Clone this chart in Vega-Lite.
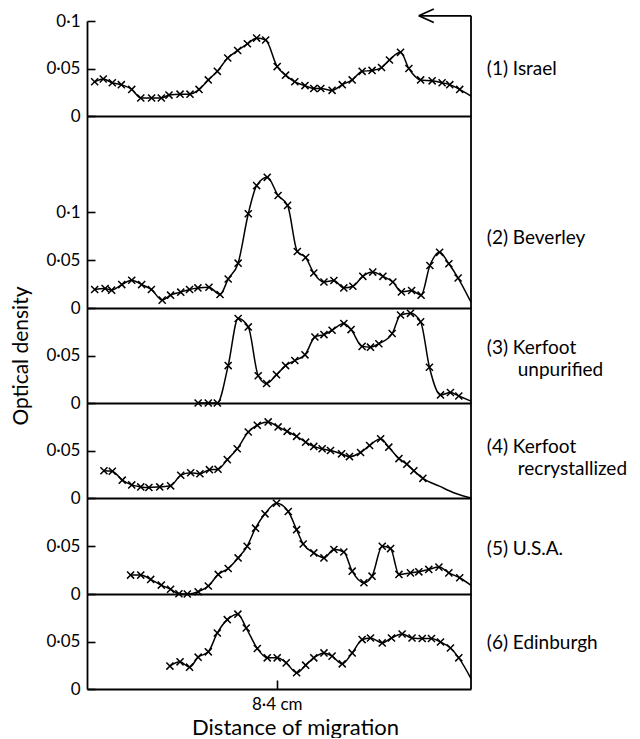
{
  "$schema": "https://vega.github.io/schema/vega-lite/v6.json",
  "background": "white",
  "padding": {"left": 10, "top": 5, "right": 0, "bottom": 0},
  "autosize": {"type": "pad"},
  "spacing": 0,
  "bounds": "flush",
  "config": {
    "view": {"stroke": null},
    "font": "Lato",
    "concat": {"spacing": 0},
    "axis": {
      "grid": false,
      "domainColor": "black",
      "domainWidth": 1.8,
      "tickColor": "black",
      "tickWidth": 1.6,
      "labelColor": "black",
      "labelFont": "Lato",
      "labelFontSize": 17,
      "titleColor": "black",
      "titleFont": "Lato",
      "titleFontSize": 21,
      "titleFontWeight": "normal",
      "labelOverlap": false
    },
    "axisY": {"tickSize": -8, "labelPadding": 15},
    "text": {"font": "Lato", "fontSize": 19, "color": "black", "align": "left", "baseline": "middle"}
  },
  "data": {
    "values": [
      {"sample": "Israel", "x": 0.34, "od": 0.036, "measured": true},
      {"sample": "Israel", "x": 0.72, "od": 0.039, "measured": true},
      {"sample": "Israel", "x": 1.12, "od": 0.035, "measured": true},
      {"sample": "Israel", "x": 1.52, "od": 0.033, "measured": true},
      {"sample": "Israel", "x": 1.98, "od": 0.028, "measured": true},
      {"sample": "Israel", "x": 2.38, "od": 0.019, "measured": true},
      {"sample": "Israel", "x": 2.86, "od": 0.019, "measured": true},
      {"sample": "Israel", "x": 3.29, "od": 0.019, "measured": true},
      {"sample": "Israel", "x": 3.63, "od": 0.022, "measured": true},
      {"sample": "Israel", "x": 4.12, "od": 0.023, "measured": true},
      {"sample": "Israel", "x": 4.56, "od": 0.023, "measured": true},
      {"sample": "Israel", "x": 4.96, "od": 0.028, "measured": true},
      {"sample": "Israel", "x": 5.37, "od": 0.038, "measured": true},
      {"sample": "Israel", "x": 5.77, "od": 0.047, "measured": true},
      {"sample": "Israel", "x": 6.23, "od": 0.061, "measured": true},
      {"sample": "Israel", "x": 6.67, "od": 0.069, "measured": true},
      {"sample": "Israel", "x": 7.10, "od": 0.076, "measured": true},
      {"sample": "Israel", "x": 7.51, "od": 0.082, "measured": true},
      {"sample": "Israel", "x": 7.91, "od": 0.080, "measured": true},
      {"sample": "Israel", "x": 8.42, "od": 0.052, "measured": true},
      {"sample": "Israel", "x": 8.79, "od": 0.043, "measured": true},
      {"sample": "Israel", "x": 9.20, "od": 0.036, "measured": true},
      {"sample": "Israel", "x": 9.65, "od": 0.032, "measured": true},
      {"sample": "Israel", "x": 10.04, "od": 0.029, "measured": true},
      {"sample": "Israel", "x": 10.35, "od": 0.029, "measured": true},
      {"sample": "Israel", "x": 10.85, "od": 0.027, "measured": true},
      {"sample": "Israel", "x": 11.30, "od": 0.033, "measured": true},
      {"sample": "Israel", "x": 11.74, "od": 0.038, "measured": true},
      {"sample": "Israel", "x": 12.18, "od": 0.047, "measured": true},
      {"sample": "Israel", "x": 12.62, "od": 0.048, "measured": true},
      {"sample": "Israel", "x": 13.04, "od": 0.051, "measured": true},
      {"sample": "Israel", "x": 13.39, "od": 0.059, "measured": true},
      {"sample": "Israel", "x": 13.88, "od": 0.067, "measured": true},
      {"sample": "Israel", "x": 14.25, "od": 0.050, "measured": true},
      {"sample": "Israel", "x": 14.77, "od": 0.038, "measured": true},
      {"sample": "Israel", "x": 15.28, "od": 0.037, "measured": true},
      {"sample": "Israel", "x": 15.72, "od": 0.035, "measured": true},
      {"sample": "Israel", "x": 16.06, "od": 0.033, "measured": true},
      {"sample": "Israel", "x": 16.50, "od": 0.028, "measured": true},
      {"sample": "Israel", "x": 17.0, "od": 0.021, "measured": false},

      {"sample": "Beverley", "x": 0.34, "od": 0.0193, "measured": true},
      {"sample": "Beverley", "x": 0.80, "od": 0.0203, "measured": true},
      {"sample": "Beverley", "x": 1.09, "od": 0.0186, "measured": true},
      {"sample": "Beverley", "x": 1.54, "od": 0.0244, "measured": true},
      {"sample": "Beverley", "x": 1.98, "od": 0.0289, "measured": true},
      {"sample": "Beverley", "x": 2.42, "od": 0.0244, "measured": true},
      {"sample": "Beverley", "x": 2.85, "od": 0.0193, "measured": true},
      {"sample": "Beverley", "x": 3.33, "od": 0.0082, "measured": true},
      {"sample": "Beverley", "x": 3.70, "od": 0.0134, "measured": true},
      {"sample": "Beverley", "x": 4.15, "od": 0.0165, "measured": true},
      {"sample": "Beverley", "x": 4.54, "od": 0.0193, "measured": true},
      {"sample": "Beverley", "x": 4.91, "od": 0.0209, "measured": true},
      {"sample": "Beverley", "x": 5.40, "od": 0.0216, "measured": true},
      {"sample": "Beverley", "x": 5.89, "od": 0.0141, "measured": true},
      {"sample": "Beverley", "x": 6.25, "od": 0.0302, "measured": true},
      {"sample": "Beverley", "x": 6.69, "od": 0.0467, "measured": true},
      {"sample": "Beverley", "x": 7.14, "od": 0.0982, "measured": true},
      {"sample": "Beverley", "x": 7.51, "od": 0.1275, "measured": true},
      {"sample": "Beverley", "x": 7.98, "od": 0.1361, "measured": true},
      {"sample": "Beverley", "x": 8.46, "od": 0.1172, "measured": true},
      {"sample": "Beverley", "x": 8.88, "od": 0.1069, "measured": true},
      {"sample": "Beverley", "x": 9.31, "od": 0.0588, "measured": true},
      {"sample": "Beverley", "x": 9.68, "od": 0.0526, "measured": true},
      {"sample": "Beverley", "x": 10.04, "od": 0.0364, "measured": true},
      {"sample": "Beverley", "x": 10.49, "od": 0.0271, "measured": true},
      {"sample": "Beverley", "x": 10.93, "od": 0.0286, "measured": true},
      {"sample": "Beverley", "x": 11.37, "od": 0.0209, "measured": true},
      {"sample": "Beverley", "x": 11.77, "od": 0.0227, "measured": true},
      {"sample": "Beverley", "x": 12.21, "od": 0.0330, "measured": true},
      {"sample": "Beverley", "x": 12.65, "od": 0.0374, "measured": true},
      {"sample": "Beverley", "x": 13.10, "od": 0.0330, "measured": true},
      {"sample": "Beverley", "x": 13.54, "od": 0.0271, "measured": true},
      {"sample": "Beverley", "x": 13.92, "od": 0.0168, "measured": true},
      {"sample": "Beverley", "x": 14.37, "od": 0.0182, "measured": true},
      {"sample": "Beverley", "x": 14.79, "od": 0.0134, "measured": true},
      {"sample": "Beverley", "x": 15.18, "od": 0.0443, "measured": true},
      {"sample": "Beverley", "x": 15.61, "od": 0.0580, "measured": true},
      {"sample": "Beverley", "x": 16.02, "od": 0.0461, "measured": true},
      {"sample": "Beverley", "x": 16.43, "od": 0.0312, "measured": true},
      {"sample": "Beverley", "x": 17.0, "od": 0.006, "measured": false},

      {"sample": "Kerfoot unpurified", "x": 4.92, "od": 0.0, "measured": true},
      {"sample": "Kerfoot unpurified", "x": 5.37, "od": 0.0, "measured": true},
      {"sample": "Kerfoot unpurified", "x": 5.77, "od": 0.0, "measured": true},
      {"sample": "Kerfoot unpurified", "x": 6.25, "od": 0.0394, "measured": true},
      {"sample": "Kerfoot unpurified", "x": 6.69, "od": 0.0890, "measured": true},
      {"sample": "Kerfoot unpurified", "x": 7.14, "od": 0.0801, "measured": true},
      {"sample": "Kerfoot unpurified", "x": 7.58, "od": 0.0287, "measured": true},
      {"sample": "Kerfoot unpurified", "x": 7.95, "od": 0.0205, "measured": true},
      {"sample": "Kerfoot unpurified", "x": 8.39, "od": 0.0298, "measured": true},
      {"sample": "Kerfoot unpurified", "x": 8.79, "od": 0.0394, "measured": true},
      {"sample": "Kerfoot unpurified", "x": 9.20, "od": 0.0447, "measured": true},
      {"sample": "Kerfoot unpurified", "x": 9.65, "od": 0.0507, "measured": true},
      {"sample": "Kerfoot unpurified", "x": 10.09, "od": 0.0695, "measured": true},
      {"sample": "Kerfoot unpurified", "x": 10.49, "od": 0.0720, "measured": true},
      {"sample": "Kerfoot unpurified", "x": 10.85, "od": 0.0766, "measured": true},
      {"sample": "Kerfoot unpurified", "x": 11.37, "od": 0.0837, "measured": true},
      {"sample": "Kerfoot unpurified", "x": 11.69, "od": 0.0773, "measured": true},
      {"sample": "Kerfoot unpurified", "x": 12.18, "od": 0.0596, "measured": true},
      {"sample": "Kerfoot unpurified", "x": 12.55, "od": 0.0588, "measured": true},
      {"sample": "Kerfoot unpurified", "x": 12.92, "od": 0.0624, "measured": true},
      {"sample": "Kerfoot unpurified", "x": 13.51, "od": 0.0731, "measured": true},
      {"sample": "Kerfoot unpurified", "x": 13.88, "od": 0.0926, "measured": true},
      {"sample": "Kerfoot unpurified", "x": 14.32, "od": 0.0944, "measured": true},
      {"sample": "Kerfoot unpurified", "x": 14.77, "od": 0.0854, "measured": true},
      {"sample": "Kerfoot unpurified", "x": 15.16, "od": 0.0376, "measured": true},
      {"sample": "Kerfoot unpurified", "x": 15.65, "od": 0.0085, "measured": true},
      {"sample": "Kerfoot unpurified", "x": 16.09, "od": 0.0110, "measured": true},
      {"sample": "Kerfoot unpurified", "x": 16.46, "od": 0.0074, "measured": true},
      {"sample": "Kerfoot unpurified", "x": 17.0, "od": 0.002, "measured": false},

      {"sample": "Kerfoot recrystallized", "x": 0.75, "od": 0.0287, "measured": true},
      {"sample": "Kerfoot recrystallized", "x": 1.12, "od": 0.0282, "measured": true},
      {"sample": "Kerfoot recrystallized", "x": 1.56, "od": 0.0188, "measured": true},
      {"sample": "Kerfoot recrystallized", "x": 1.98, "od": 0.0138, "measured": true},
      {"sample": "Kerfoot recrystallized", "x": 2.38, "od": 0.0117, "measured": true},
      {"sample": "Kerfoot recrystallized", "x": 2.74, "od": 0.0110, "measured": true},
      {"sample": "Kerfoot recrystallized", "x": 3.22, "od": 0.0117, "measured": true},
      {"sample": "Kerfoot recrystallized", "x": 3.70, "od": 0.0128, "measured": true},
      {"sample": "Kerfoot recrystallized", "x": 4.15, "od": 0.0239, "measured": true},
      {"sample": "Kerfoot recrystallized", "x": 4.59, "od": 0.0266, "measured": true},
      {"sample": "Kerfoot recrystallized", "x": 5.00, "od": 0.0255, "measured": true},
      {"sample": "Kerfoot recrystallized", "x": 5.42, "od": 0.0298, "measured": true},
      {"sample": "Kerfoot recrystallized", "x": 5.80, "od": 0.0303, "measured": true},
      {"sample": "Kerfoot recrystallized", "x": 6.21, "od": 0.0404, "measured": true},
      {"sample": "Kerfoot recrystallized", "x": 6.65, "od": 0.0518, "measured": true},
      {"sample": "Kerfoot recrystallized", "x": 7.14, "od": 0.0695, "measured": true},
      {"sample": "Kerfoot recrystallized", "x": 7.54, "od": 0.0766, "measured": true},
      {"sample": "Kerfoot recrystallized", "x": 8.02, "od": 0.0801, "measured": true},
      {"sample": "Kerfoot recrystallized", "x": 8.46, "od": 0.0748, "measured": true},
      {"sample": "Kerfoot recrystallized", "x": 8.86, "od": 0.0702, "measured": true},
      {"sample": "Kerfoot recrystallized", "x": 9.28, "od": 0.0649, "measured": true},
      {"sample": "Kerfoot recrystallized", "x": 9.68, "od": 0.0588, "measured": true},
      {"sample": "Kerfoot recrystallized", "x": 10.04, "od": 0.0543, "measured": true},
      {"sample": "Kerfoot recrystallized", "x": 10.41, "od": 0.0518, "measured": true},
      {"sample": "Kerfoot recrystallized", "x": 10.78, "od": 0.0500, "measured": true},
      {"sample": "Kerfoot recrystallized", "x": 11.27, "od": 0.0465, "measured": true},
      {"sample": "Kerfoot recrystallized", "x": 11.62, "od": 0.0436, "measured": true},
      {"sample": "Kerfoot recrystallized", "x": 12.11, "od": 0.0479, "measured": true},
      {"sample": "Kerfoot recrystallized", "x": 12.51, "od": 0.0553, "measured": true},
      {"sample": "Kerfoot recrystallized", "x": 13.00, "od": 0.0624, "measured": true},
      {"sample": "Kerfoot recrystallized", "x": 13.36, "od": 0.0535, "measured": true},
      {"sample": "Kerfoot recrystallized", "x": 13.81, "od": 0.0415, "measured": true},
      {"sample": "Kerfoot recrystallized", "x": 14.16, "od": 0.0356, "measured": true},
      {"sample": "Kerfoot recrystallized", "x": 14.47, "od": 0.0287, "measured": true},
      {"sample": "Kerfoot recrystallized", "x": 14.87, "od": 0.0207, "measured": true},
      {"sample": "Kerfoot recrystallized", "x": 15.6, "od": 0.0125, "measured": false},
      {"sample": "Kerfoot recrystallized", "x": 16.3, "od": 0.005, "measured": false},
      {"sample": "Kerfoot recrystallized", "x": 17.0, "od": 0.0, "measured": false},

      {"sample": "U.S.A.", "x": 1.93, "od": 0.0197, "measured": true},
      {"sample": "U.S.A.", "x": 2.38, "od": 0.0197, "measured": true},
      {"sample": "U.S.A.", "x": 2.82, "od": 0.0152, "measured": true},
      {"sample": "U.S.A.", "x": 3.29, "od": 0.0093, "measured": true},
      {"sample": "U.S.A.", "x": 3.70, "od": 0.0049, "measured": true},
      {"sample": "U.S.A.", "x": 4.07, "od": 0.0003, "measured": true},
      {"sample": "U.S.A.", "x": 4.44, "od": 0.0, "measured": true},
      {"sample": "U.S.A.", "x": 4.92, "od": 0.0024, "measured": true},
      {"sample": "U.S.A.", "x": 5.37, "od": 0.0083, "measured": true},
      {"sample": "U.S.A.", "x": 5.81, "od": 0.0204, "measured": true},
      {"sample": "U.S.A.", "x": 6.25, "od": 0.0266, "measured": true},
      {"sample": "U.S.A.", "x": 6.69, "od": 0.0376, "measured": true},
      {"sample": "U.S.A.", "x": 7.09, "od": 0.0497, "measured": true},
      {"sample": "U.S.A.", "x": 7.46, "od": 0.0686, "measured": true},
      {"sample": "U.S.A.", "x": 7.88, "od": 0.0835, "measured": true},
      {"sample": "U.S.A.", "x": 8.39, "od": 0.0945, "measured": true},
      {"sample": "U.S.A.", "x": 8.91, "od": 0.0859, "measured": true},
      {"sample": "U.S.A.", "x": 9.28, "od": 0.0670, "measured": true},
      {"sample": "U.S.A.", "x": 9.57, "od": 0.0521, "measured": true},
      {"sample": "U.S.A.", "x": 10.04, "od": 0.0428, "measured": true},
      {"sample": "U.S.A.", "x": 10.49, "od": 0.0376, "measured": true},
      {"sample": "U.S.A.", "x": 10.93, "od": 0.0463, "measured": true},
      {"sample": "U.S.A.", "x": 11.37, "od": 0.0438, "measured": true},
      {"sample": "U.S.A.", "x": 11.74, "od": 0.0238, "measured": true},
      {"sample": "U.S.A.", "x": 12.26, "od": 0.0117, "measured": true},
      {"sample": "U.S.A.", "x": 12.62, "od": 0.0186, "measured": true},
      {"sample": "U.S.A.", "x": 13.07, "od": 0.0497, "measured": true},
      {"sample": "U.S.A.", "x": 13.44, "od": 0.0473, "measured": true},
      {"sample": "U.S.A.", "x": 13.81, "od": 0.0204, "measured": true},
      {"sample": "U.S.A.", "x": 14.32, "od": 0.0220, "measured": true},
      {"sample": "U.S.A.", "x": 14.69, "od": 0.0231, "measured": true},
      {"sample": "U.S.A.", "x": 15.13, "od": 0.0256, "measured": true},
      {"sample": "U.S.A.", "x": 15.58, "od": 0.0280, "measured": true},
      {"sample": "U.S.A.", "x": 16.02, "od": 0.0220, "measured": true},
      {"sample": "U.S.A.", "x": 16.50, "od": 0.0169, "measured": true},
      {"sample": "U.S.A.", "x": 17.0, "od": 0.009, "measured": false},

      {"sample": "Edinburgh", "x": 3.67, "od": 0.0241, "measured": true},
      {"sample": "Edinburgh", "x": 4.12, "od": 0.0286, "measured": true},
      {"sample": "Edinburgh", "x": 4.54, "od": 0.0230, "measured": true},
      {"sample": "Edinburgh", "x": 4.92, "od": 0.0335, "measured": true},
      {"sample": "Edinburgh", "x": 5.37, "od": 0.0391, "measured": true},
      {"sample": "Edinburgh", "x": 5.77, "od": 0.0590, "measured": true},
      {"sample": "Edinburgh", "x": 6.21, "od": 0.0730, "measured": true},
      {"sample": "Edinburgh", "x": 6.68, "od": 0.0788, "measured": true},
      {"sample": "Edinburgh", "x": 7.05, "od": 0.0642, "measured": true},
      {"sample": "Edinburgh", "x": 7.54, "od": 0.0426, "measured": true},
      {"sample": "Edinburgh", "x": 7.98, "od": 0.0328, "measured": true},
      {"sample": "Edinburgh", "x": 8.42, "od": 0.0328, "measured": true},
      {"sample": "Edinburgh", "x": 8.82, "od": 0.0275, "measured": true},
      {"sample": "Edinburgh", "x": 9.28, "od": 0.0171, "measured": true},
      {"sample": "Edinburgh", "x": 9.68, "od": 0.0251, "measured": true},
      {"sample": "Edinburgh", "x": 10.04, "od": 0.0328, "measured": true},
      {"sample": "Edinburgh", "x": 10.49, "od": 0.0380, "measured": true},
      {"sample": "Edinburgh", "x": 10.85, "od": 0.0346, "measured": true},
      {"sample": "Edinburgh", "x": 11.30, "od": 0.0265, "measured": true},
      {"sample": "Edinburgh", "x": 11.74, "od": 0.0380, "measured": true},
      {"sample": "Edinburgh", "x": 12.18, "od": 0.0520, "measured": true},
      {"sample": "Edinburgh", "x": 12.55, "od": 0.0537, "measured": true},
      {"sample": "Edinburgh", "x": 13.07, "od": 0.0485, "measured": true},
      {"sample": "Edinburgh", "x": 13.48, "od": 0.0537, "measured": true},
      {"sample": "Edinburgh", "x": 13.95, "od": 0.0579, "measured": true},
      {"sample": "Edinburgh", "x": 14.39, "od": 0.0537, "measured": true},
      {"sample": "Edinburgh", "x": 14.84, "od": 0.0531, "measured": true},
      {"sample": "Edinburgh", "x": 15.25, "od": 0.0531, "measured": true},
      {"sample": "Edinburgh", "x": 15.65, "od": 0.0495, "measured": true},
      {"sample": "Edinburgh", "x": 16.09, "od": 0.0432, "measured": true},
      {"sample": "Edinburgh", "x": 16.46, "od": 0.0328, "measured": true},
      {"sample": "Edinburgh", "x": 17.0, "od": 0.011, "measured": false}
    ]
  },
  "vconcat": [
    {
      "width": 384, "height": 95,
      "transform": [{"filter": "datum.sample === 'Israel'"}],
      "layer": [
        {
          "encoding": {
            "x": {"field": "x", "type": "quantitative", "scale": {"domain": [0, 17], "nice": false}, "axis": {"labels": false, "ticks": false, "title": null}},
            "y": {"field": "od", "type": "quantitative", "scale": {"domain": [0, 0.1], "nice": false}, "axis": {"values": [0, 0.05, 0.1], "format": "~g", "labelExpr": "replace(datum.label, '.', '·')", "title": null}}
          },
          "layer": [
            {"mark": {"type": "line", "interpolate": "monotone", "color": "black", "strokeWidth": 1.5}},
            {"transform": [{"filter": "datum.measured"}], "mark": {"type": "point", "shape": "M-1,-1L1,1M-1,1L1,-1", "size": 50, "color": "black", "strokeWidth": 1.5, "filled": false, "opacity": 1}}
          ]
        },
        {"data": {"values": [{}]}, "mark": {"type": "rule", "color": "black", "strokeWidth": 1.8, "clip": false}, "encoding": {"x": {"datum": 17, "scale": {"domain": [0, 17], "nice": false}}, "y": {"datum": 0, "scale": {"domain": [0, 0.1], "nice": false}}, "y2": {"datum": 0.1055}}},
        {"data": {"values": [{}]}, "mark": {"type": "rule", "color": "black", "strokeWidth": 1.8, "clip": false}, "encoding": {"x": {"datum": 14.69, "scale": {"domain": [0, 17], "nice": false}}, "x2": {"datum": 17}, "y": {"datum": 0.1055, "scale": {"domain": [0, 0.1], "nice": false}}}},
        {"data": {"values": [{}]}, "mark": {"type": "point", "shape": "M-1,0L1,-0.9M-1,0L1,0.9", "size": 225, "color": "black", "strokeWidth": 1.8, "filled": false, "opacity": 1, "clip": false}, "encoding": {"x": {"datum": 15.02, "scale": {"domain": [0, 17], "nice": false}}, "y": {"datum": 0.1055, "scale": {"domain": [0, 0.1], "nice": false}}}},
        {"data": {"values": [{}]}, "mark": {"type": "text", "text": "(1) Israel", "clip": false}, "encoding": {"x": {"datum": 17.7, "scale": {"domain": [0, 17], "nice": false}}, "y": {"datum": 0.05, "scale": {"domain": [0, 0.1], "nice": false}}}}
      ]
    },
    {
      "width": 384, "height": 192,
      "transform": [{"filter": "datum.sample === 'Beverley'"}],
      "layer": [
        {
          "encoding": {
            "x": {"field": "x", "type": "quantitative", "scale": {"domain": [0, 17], "nice": false}, "axis": {"labels": false, "ticks": false, "title": null}},
            "y": {"field": "od", "type": "quantitative", "scale": {"domain": [0, 0.2], "nice": false}, "axis": {"values": [0, 0.05, 0.1], "format": "~g", "labelExpr": "replace(datum.label, '.', '·')", "title": null}}
          },
          "layer": [
            {"mark": {"type": "line", "interpolate": "monotone", "color": "black", "strokeWidth": 1.5}},
            {"transform": [{"filter": "datum.measured"}], "mark": {"type": "point", "shape": "M-1,-1L1,1M-1,1L1,-1", "size": 50, "color": "black", "strokeWidth": 1.5, "filled": false, "opacity": 1}}
          ]
        },
        {"data": {"values": [{}]}, "mark": {"type": "rule", "color": "black", "strokeWidth": 1.8}, "encoding": {"x": {"datum": 17, "scale": {"domain": [0, 17], "nice": false}}}},
        {"data": {"values": [{}]}, "mark": {"type": "text", "text": "(2) Beverley", "clip": false}, "encoding": {"x": {"datum": 17.7, "scale": {"domain": [0, 17], "nice": false}}, "y": {"datum": 0.073, "scale": {"domain": [0, 0.2], "nice": false}}}}
      ]
    },
    {
      "width": 384, "height": 95,
      "transform": [{"filter": "datum.sample === 'Kerfoot unpurified'"}],
      "layer": [
        {
          "encoding": {
            "x": {"field": "x", "type": "quantitative", "scale": {"domain": [0, 17], "nice": false}, "axis": {"labels": false, "ticks": false, "title": null}},
            "y": {"field": "od", "type": "quantitative", "scale": {"domain": [0, 0.1], "nice": false}, "axis": {"values": [0, 0.05], "format": "~g", "labelExpr": "replace(datum.label, '.', '·')", "title": "Optical density", "titlePadding": 14}}
          },
          "layer": [
            {"mark": {"type": "line", "interpolate": "monotone", "color": "black", "strokeWidth": 1.5}},
            {"transform": [{"filter": "datum.measured"}], "mark": {"type": "point", "shape": "M-1,-1L1,1M-1,1L1,-1", "size": 50, "color": "black", "strokeWidth": 1.5, "filled": false, "opacity": 1}}
          ]
        },
        {"data": {"values": [{}]}, "mark": {"type": "rule", "color": "black", "strokeWidth": 1.8}, "encoding": {"x": {"datum": 17, "scale": {"domain": [0, 17], "nice": false}}}},
        {"data": {"values": [{}]}, "mark": {"type": "text", "text": "(3) Kerfoot", "clip": false}, "encoding": {"x": {"datum": 17.7, "scale": {"domain": [0, 17], "nice": false}}, "y": {"datum": 0.0578, "scale": {"domain": [0, 0.1], "nice": false}}}},
        {"data": {"values": [{}]}, "mark": {"type": "text", "text": "unpurified", "clip": false}, "encoding": {"x": {"datum": 19.07, "scale": {"domain": [0, 17], "nice": false}}, "y": {"datum": 0.0352, "scale": {"domain": [0, 0.1], "nice": false}}}}
      ]
    },
    {
      "width": 384, "height": 95,
      "transform": [{"filter": "datum.sample === 'Kerfoot recrystallized'"}],
      "layer": [
        {
          "encoding": {
            "x": {"field": "x", "type": "quantitative", "scale": {"domain": [0, 17], "nice": false}, "axis": {"labels": false, "ticks": false, "title": null}},
            "y": {"field": "od", "type": "quantitative", "scale": {"domain": [0, 0.1], "nice": false}, "axis": {"values": [0, 0.05], "format": "~g", "labelExpr": "replace(datum.label, '.', '·')", "title": null}}
          },
          "layer": [
            {"mark": {"type": "line", "interpolate": "monotone", "color": "black", "strokeWidth": 1.5}},
            {"transform": [{"filter": "datum.measured"}], "mark": {"type": "point", "shape": "M-1,-1L1,1M-1,1L1,-1", "size": 50, "color": "black", "strokeWidth": 1.5, "filled": false, "opacity": 1}}
          ]
        },
        {"data": {"values": [{}]}, "mark": {"type": "rule", "color": "black", "strokeWidth": 1.8}, "encoding": {"x": {"datum": 17, "scale": {"domain": [0, 17], "nice": false}}}},
        {"data": {"values": [{}]}, "mark": {"type": "text", "text": "(4) Kerfoot", "clip": false}, "encoding": {"x": {"datum": 17.7, "scale": {"domain": [0, 17], "nice": false}}, "y": {"datum": 0.0536, "scale": {"domain": [0, 0.1], "nice": false}}}},
        {"data": {"values": [{}]}, "mark": {"type": "text", "text": "recrystallized", "clip": false}, "encoding": {"x": {"datum": 19.07, "scale": {"domain": [0, 17], "nice": false}}, "y": {"datum": 0.031, "scale": {"domain": [0, 0.1], "nice": false}}}}
      ]
    },
    {
      "width": 384, "height": 96,
      "transform": [{"filter": "datum.sample === 'U.S.A.'"}],
      "layer": [
        {
          "encoding": {
            "x": {"field": "x", "type": "quantitative", "scale": {"domain": [0, 17], "nice": false}, "axis": {"labels": false, "ticks": false, "title": null}},
            "y": {"field": "od", "type": "quantitative", "scale": {"domain": [0, 0.1], "nice": false}, "axis": {"values": [0, 0.05], "format": "~g", "labelExpr": "replace(datum.label, '.', '·')", "title": null}}
          },
          "layer": [
            {"mark": {"type": "line", "interpolate": "monotone", "color": "black", "strokeWidth": 1.5}},
            {"transform": [{"filter": "datum.measured"}], "mark": {"type": "point", "shape": "M-1,-1L1,1M-1,1L1,-1", "size": 50, "color": "black", "strokeWidth": 1.5, "filled": false, "opacity": 1}}
          ]
        },
        {"data": {"values": [{}]}, "mark": {"type": "rule", "color": "black", "strokeWidth": 1.8}, "encoding": {"x": {"datum": 17, "scale": {"domain": [0, 17], "nice": false}}}},
        {"data": {"values": [{}]}, "mark": {"type": "text", "text": "(5) U.S.A.", "clip": false}, "encoding": {"x": {"datum": 17.7, "scale": {"domain": [0, 17], "nice": false}}, "y": {"datum": 0.047, "scale": {"domain": [0, 0.1], "nice": false}}}}
      ]
    },
    {
      "width": 384, "height": 95,
      "transform": [{"filter": "datum.sample === 'Edinburgh'"}],
      "layer": [
        {
          "encoding": {
            "x": {"field": "x", "type": "quantitative", "scale": {"domain": [0, 17], "nice": false}, "axis": {"values": [8.4], "labelExpr": "'8·4 cm'", "tickSize": -9, "labelPadding": 16, "title": "Distance of migration", "titleFontSize": 22, "titlePadding": 5, "titleX": 208}},
            "y": {"field": "od", "type": "quantitative", "scale": {"domain": [0, 0.1], "nice": false}, "axis": {"values": [0, 0.05], "format": "~g", "labelExpr": "replace(datum.label, '.', '·')", "title": null}}
          },
          "layer": [
            {"mark": {"type": "line", "interpolate": "monotone", "color": "black", "strokeWidth": 1.5}},
            {"transform": [{"filter": "datum.measured"}], "mark": {"type": "point", "shape": "M-1,-1L1,1M-1,1L1,-1", "size": 50, "color": "black", "strokeWidth": 1.5, "filled": false, "opacity": 1}}
          ]
        },
        {"data": {"values": [{}]}, "mark": {"type": "rule", "color": "black", "strokeWidth": 1.8}, "encoding": {"x": {"datum": 17, "scale": {"domain": [0, 17], "nice": false}}}},
        {"data": {"values": [{}]}, "mark": {"type": "text", "text": "(6) Edinburgh", "clip": false}, "encoding": {"x": {"datum": 17.7, "scale": {"domain": [0, 17], "nice": false}}, "y": {"datum": 0.048, "scale": {"domain": [0, 0.1], "nice": false}}}}
      ]
    }
  ]
}
